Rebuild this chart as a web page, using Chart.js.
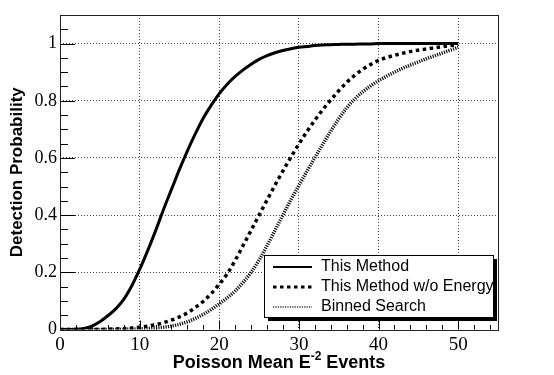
<!DOCTYPE html>
<html>
<head>
<meta charset="utf-8">
<script src="https://cdn.jsdelivr.net/npm/chart.js@4"></script>
<style>
  html, body { margin: 0; padding: 0; background: #fff; }
  #wrap { width: 554px; height: 375px; position: relative; }
</style>
</head>
<body>
<div id="wrap"><canvas id="myChart"></canvas></div>
<script>
// 데이터 (x = 0..50, 1 간격)
const xValues = [0,1,2,3,4,5,6,7,8,9,10,11,12,13,14,15,16,17,18,19,20,21,22,23,24,25,26,27,28,29,30,
                 31,32,33,34,35,36,37,38,39,40,41,42,43,44,45,46,47,48,49,50];

const thisMethod = [0,0,0.001,0.004,0.012,0.027,0.048,0.072,0.105,0.152,0.21,0.275,0.345,0.42,0.49,0.56,
                    0.625,0.685,0.74,0.785,0.825,0.858,0.885,0.908,0.928,0.945,0.958,0.968,0.976,0.982,0.987,
                    0.99,0.993,0.995,0.996,0.997,0.998,0.998,0.999,0.999,1,1,1,1,1,1,1,1,1,1,1];

const noEnergy = [0,0,0,0,0,0,0.001,0.002,0.003,0.005,0.008,0.012,0.017,0.024,0.033,0.044,0.058,0.077,0.099,0.126,
                  0.158,0.195,0.242,0.294,0.347,0.4,0.453,0.505,0.555,0.603,0.649,0.692,0.732,0.769,0.803,0.835,
                  0.864,0.889,0.91,0.927,0.941,0.951,0.959,0.966,0.972,0.977,0.981,0.985,0.989,0.993,0.997];

const binned = [0,0,0,0,0,0,0,0,0.0005,0.001,0.002,0.003,0.005,0.008,0.012,0.018,0.027,0.039,0.053,0.07,0.09,
                0.111,0.135,0.165,0.2,0.243,0.293,0.347,0.401,0.454,0.504,0.553,0.601,0.648,0.694,0.737,0.775,
                0.806,0.831,0.852,0.87,0.886,0.9,0.913,0.925,0.936,0.947,0.957,0.967,0.977,0.987];

const seriesLabels = ['This Method', 'This Method w/o Energy', 'Binned Search'];
const xTicks = [0, 10, 20, 30, 40, 50];
const yTicks = [0, 0.2, 0.4, 0.6, 0.8, 1];

function toPoints(ys) {
    return xValues.map((x, i) => ({ x: x, y: ys[i] }));
}

// 틱, 테두리, 축 제목, 범례 그리기
const rootStyle = {
    id: 'rootStyle',
    afterDraw(chart) {
        const { ctx, chartArea: a, scales } = chart;
        const xs = scales.x, ys = scales.y;
        ctx.save();

        // 작은 틱 (y: 0.05, x: 2)
        ctx.strokeStyle = '#000';
        ctx.lineWidth = 1;
        ctx.beginPath();
        for (let k = 0; k <= 22; k++) {
            const v = k * 0.05;
            const py = Math.round(ys.getPixelForValue(v)) + 0.5;
            if (py < a.top) continue;
            const len = (k % 4 === 0) ? 15 : 8;
            ctx.moveTo(a.left, py);
            ctx.lineTo(a.left + len, py);
        }
        for (let k = 0; k <= 27; k++) {
            const v = k * 2;
            const px = Math.round(xs.getPixelForValue(v)) + 0.5;
            const len = (k % 5 === 0) ? 9 : 4.5;
            ctx.moveTo(px, a.bottom);
            ctx.lineTo(px, a.bottom - len);
        }
        ctx.stroke();

        // 테두리
        ctx.strokeStyle = '#222';
        ctx.strokeRect(Math.round(a.left) + 0.5, Math.round(a.top) + 0.5,
                       Math.round(a.right - a.left), Math.round(a.bottom - a.top));

        // 축 제목
        ctx.fillStyle = '#000';
        ctx.font = 'bold 17px "Liberation Sans", Arial, sans-serif';
        ctx.textAlign = 'center';
        ctx.textBaseline = 'middle';
        ctx.save();
        ctx.translate(17, (a.top + a.bottom) / 2);
        ctx.rotate(-Math.PI / 2);
        ctx.fillText('Detection Probability', 0, 0);
        ctx.restore();

        // x 제목 (위첨자 포함)
        const mainFont = 'bold 18px "Liberation Sans", Arial, sans-serif';
        const supFont = 'bold 12px "Liberation Sans", Arial, sans-serif';
        const p1 = 'Poisson Mean E', sup = '-2', p2 = ' Events';
        ctx.font = mainFont;
        const w1 = ctx.measureText(p1).width, w3 = ctx.measureText(p2).width;
        ctx.font = supFont;
        const w2 = ctx.measureText(sup).width;
        let tx = (a.left + a.right) / 2 - (w1 + w2 + w3) / 2;
        const by = 368;
        ctx.textAlign = 'left';
        ctx.textBaseline = 'alphabetic';
        ctx.font = mainFont;
        ctx.fillText(p1, tx, by);
        ctx.font = supFont;
        ctx.fillText(sup, tx + w1, by - 8);
        ctx.font = mainFont;
        ctx.fillText(p2, tx + w1 + w2, by);

        // 범례 (그림자 있는 상자)
        const lx = 264, ly = 255, lw = 229, lh = 62;
        ctx.fillStyle = '#000';
        ctx.fillRect(lx + 4, ly + 4, lw, lh);
        ctx.fillStyle = '#fff';
        ctx.fillRect(lx, ly, lw, lh);
        ctx.strokeStyle = '#000';
        ctx.lineWidth = 1;
        ctx.strokeRect(lx + 0.5, ly + 0.5, lw, lh);

        const rows = [267, 287, 307];
        const sampleWidth = [2, 3, 2];
        ctx.font = '16px "Liberation Sans", Arial, sans-serif';
        ctx.textBaseline = 'middle';
        chart.data.datasets.forEach((ds, i) => {
            ctx.strokeStyle = i === 2 ? '#666' : ds.borderColor;
            ctx.lineWidth = sampleWidth[i];
            ctx.setLineDash(ds.borderDash || []);
            ctx.beginPath();
            ctx.moveTo(273, rows[i]);
            ctx.lineTo(312, rows[i]);
            ctx.stroke();
            ctx.setLineDash([]);
            ctx.fillStyle = '#000';
            ctx.fillText(ds.label, 321, rows[i]);
        });

        ctx.restore();
    }
};

const ctx = document.getElementById('myChart').getContext('2d');
const myChart = new Chart(ctx, {
    type: 'line',
    data: {
        datasets: [{
            label: seriesLabels[0],
            data: toPoints(thisMethod),
            borderColor: '#000',
            borderWidth: 3,
            pointRadius: 0,
            cubicInterpolationMode: 'monotone'
        }, {
            label: seriesLabels[1],
            data: toPoints(noEnergy),
            borderColor: '#000',
            borderWidth: 3.5,
            borderDash: [3.5, 3.5],
            pointRadius: 0,
            cubicInterpolationMode: 'monotone'
        }, {
            label: seriesLabels[2],
            data: toPoints(binned),
            borderColor: '#111',
            borderWidth: 3.5,
            borderDash: [1.2, 1.2],
            pointRadius: 0,
            cubicInterpolationMode: 'monotone'
        }]
    },
    options: {
        responsive: true,
        maintainAspectRatio: false,
        animation: false,
        layout: {
            padding: { left: 0, right: 56, top: 15, bottom: 0 }
        },
        plugins: {
            legend: { display: false },
            tooltip: { enabled: false }
        },
        scales: {
            x: {
                type: 'linear',
                min: 0,
                max: 55,
                afterBuildTicks: (s) => { s.ticks = xTicks.map(v => ({ value: v })); },
                afterFit: (s) => { s.height = 45.5; },
                ticks: {
                    color: '#000',
                    padding: 4,
                    maxRotation: 0,
                    font: { family: '"Liberation Serif", "Times New Roman", serif', size: 19 }
                },
                grid: {
                    drawTicks: false,
                    lineWidth: 1,
                    color: (c) => (c.tick && c.tick.value > 0 ? '#444' : 'rgba(0,0,0,0)')
                },
                border: { display: false, dash: [1, 2] }
            },
            y: {
                min: 0,
                max: 1.1,
                afterBuildTicks: (s) => { s.ticks = yTicks.map(v => ({ value: v })); },
                afterFit: (s) => { s.width = 60; },
                ticks: {
                    color: '#000',
                    padding: 3,
                    font: { family: '"Liberation Serif", "Times New Roman", serif', size: 18 },
                    callback: (v) => String(v)
                },
                grid: {
                    drawTicks: false,
                    lineWidth: 1,
                    color: (c) => (c.tick && c.tick.value > 0 ? '#444' : 'rgba(0,0,0,0)')
                },
                border: { display: false, dash: [1, 2] }
            }
        }
    },
    plugins: [rootStyle]
});
</script>
</body>
</html>
